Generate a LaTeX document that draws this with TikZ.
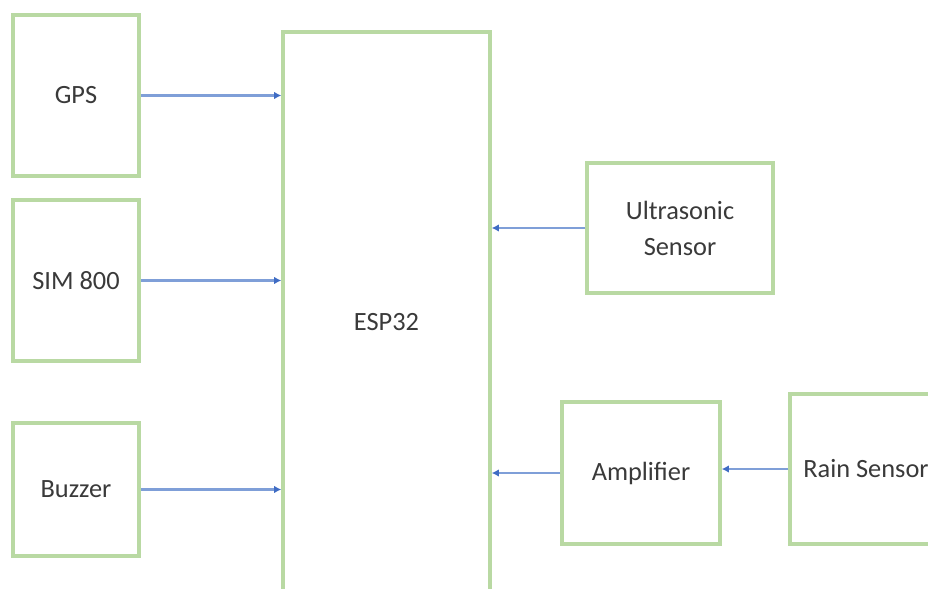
\documentclass[tikz,border=0pt]{standalone}
\usepackage{fontspec}
\setmainfont{Carlito}
\usetikzlibrary{arrows.meta,positioning}
\definecolor{boxgreen}{HTML}{B9D9A3}
\definecolor{wireblue}{HTML}{7F9FD8}
\definecolor{tipblue}{HTML}{3F6CC4}
\definecolor{textgray}{HTML}{3A3A3A}

\begin{document}
\begin{tikzpicture}[every node/.style={font=\fontsize{15}{20.5}\selectfont,text=textgray,align=center},
    module/.style={draw=boxgreen,line width=2pt,fill=white,inner sep=0pt},
    wire/.style={-{Latex[length=1.4mm,width=1.5mm,color=tipblue]},draw=wireblue,line width=1.4pt}]
      \useasboundingbox (0,0) rectangle (18.56,-11.78);
      \clip (0,0) rectangle (18.56,-11.78);
      \node[module,minimum width=2.52cm,minimum height=3.22cm] (gps) at (1.52,-1.91) {GPS};
      \node[module,minimum width=2.52cm,minimum height=3.22cm] (sim) at (1.52,-5.61) {SIM 800};
      \node[module,minimum width=2.52cm,minimum height=2.66cm] (buzzer) at (1.52,-9.79) {Buzzer};
      \node[module,minimum width=4.14cm,minimum height=11.6cm] (esp) at (7.73,-6.44) {ESP32};
      \node[module,minimum width=3.72cm,minimum height=2.6cm] (ultra) at (13.6,-4.56) {Ultrasonic\\Sensor};
      \node[module,minimum width=3.16cm,minimum height=2.84cm] (amp) at (12.82,-9.46) {Amplifier};
      \node[module,minimum width=3.04cm,minimum height=3.0cm] (rain) at (17.32,-9.38) {Rain Sensor};
      \draw[wire] (gps.east) -- (esp.west |- gps.east);
      \draw[wire] (sim.east) -- (esp.west |- sim.east);
      \draw[wire] (buzzer.east) -- (esp.west |- buzzer.east);
      \draw[wire] (ultra.west) -- (esp.east |- ultra.west);
      \draw[wire] (amp.west) -- (esp.east |- amp.west);
      \draw[wire] (rain.west) -- (amp.east |- rain.west);
    \end{tikzpicture}
\end{document}
